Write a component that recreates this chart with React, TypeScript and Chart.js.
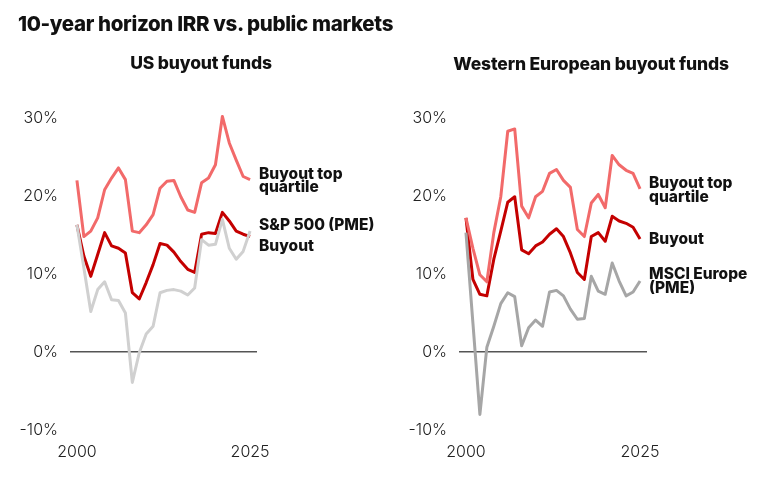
import React, { useEffect, useRef } from 'react';
import { Chart, registerables } from 'chart.js';

Chart.register(...registerables);

const years = [2000, 2001, 2002, 2003, 2004, 2005, 2006, 2007, 2008, 2009, 2010, 2011, 2012, 2013, 2014, 2015, 2016, 2017, 2018, 2019, 2020, 2021, 2022, 2023, 2024, 2025];
const xTickYears = [2000, 2025];
const yTicks = [-10, 0, 10, 20, 30];

const usTopQuartile = [22.0, 14.8, 15.5, 17.2, 20.8, 22.3, 23.6, 22.1, 15.5, 15.3, 16.3, 17.6, 21.0, 21.9, 22.0, 19.9, 18.2, 17.9, 21.7, 22.3, 24.0, 30.2, 26.8, 24.6, 22.5, 22.1];
const usBuyout = [16.3, 12.3, 9.7, 12.5, 15.3, 13.6, 13.3, 12.7, 7.6, 6.8, 8.9, 11.2, 13.9, 13.7, 12.8, 11.6, 10.6, 10.2, 15.1, 15.3, 15.2, 17.9, 16.8, 15.5, 15.1, 14.8];
const usSP500 = [16.3, 10.8, 5.2, 8.0, 9.0, 6.7, 6.6, 5.0, -3.9, -0.1, 2.3, 3.3, 7.6, 7.9, 8.0, 7.8, 7.3, 8.2, 14.4, 13.7, 13.8, 17.0, 13.3, 11.9, 12.9, 15.5];

const euTopQuartile = [17.2, 13.3, 9.9, 9.0, 15.3, 19.9, 28.3, 28.6, 18.7, 17.2, 19.9, 20.6, 22.9, 23.4, 22.0, 21.1, 15.7, 14.8, 19.1, 20.2, 18.5, 25.2, 24.0, 23.3, 22.9, 20.9];
const euBuyout = [17.2, 9.3, 7.4, 7.2, 11.9, 15.5, 19.2, 19.9, 13.1, 12.6, 13.6, 14.1, 15.1, 15.8, 14.8, 12.7, 10.2, 9.3, 14.8, 15.3, 14.2, 17.4, 16.8, 16.5, 16.0, 14.5];
const euMSCI = [15.3, 3.7, -8.0, 0.6, 3.3, 6.2, 7.6, 7.1, 0.8, 3.1, 4.1, 3.3, 7.7, 7.9, 7.2, 5.5, 4.2, 4.3, 9.7, 7.8, 7.4, 11.4, 9.1, 7.2, 7.7, 9.1];

const usLabels = [
  { lines: ['Buyout top', 'quartile'], value: 22.2 },
  { lines: ['S&P 500 (PME)'], value: 15.7 },
  { lines: ['Buyout'], value: 13.0 },
];
const euLabels = [
  { lines: ['Buyout top', 'quartile'], value: 21.0 },
  { lines: ['Buyout'], value: 13.9 },
  { lines: ['MSCI Europe', '(PME)'], value: 9.3 },
];

const FONT = "Inter, 'Noto Sans', sans-serif";
const LIGHT_RED = '#f26a6a';
const DARK_RED = '#c40000';

type LabelDef = { lines: string[]; value: number };

function Panel(props: {
  left: number;
  chartLeft: number;
  padRight: number;
  top: number[];
  buyout: number[];
  index: number[];
  indexColor: string;
  labels: LabelDef[];
}) {
  const ref = useRef<HTMLCanvasElement | null>(null);
  useEffect(() => {
    if (!ref.current) return;
    const labelPlugin = {
      id: 'endLabels',
      afterDatasetsDraw(chart: any) {
        const ctx = chart.ctx;
        const xs = chart.scales.x;
        const ys = chart.scales.y;
        const x = xs.getPixelForValue(years[years.length - 1]) + 9;
        ctx.save();
        ctx.font = `800 15.5px ${FONT}`;
        ctx.fillStyle = '#111';
        ctx.textAlign = 'left';
        ctx.textBaseline = 'alphabetic';
        props.labels.forEach((l) => {
          const y = ys.getPixelForValue(l.value);
          l.lines.forEach((line, i) => ctx.fillText(line, x, y + i * 13.5));
        });
        ctx.restore();
      },
    };
    const mk = (data: number[], color: string) => ({
      data: data.map((v, i) => ({ x: years[i], y: v })),
      borderColor: color,
      borderWidth: 3,
      pointRadius: 0,
      tension: 0,
      fill: false,
      clip: false as any,
      borderJoinStyle: 'round' as const,
    });
    const chart = new Chart(ref.current, {
      type: 'line',
      data: {
        datasets: [mk(props.index, props.indexColor), mk(props.top, LIGHT_RED), mk(props.buyout, DARK_RED)],
      },
      options: {
        animation: false,
        responsive: true,
        maintainAspectRatio: false,
        layout: { padding: { top: 118, left: 0, right: props.padRight, bottom: 0 } },
        plugins: { legend: { display: false }, tooltip: { enabled: false }, title: { display: false } },
        scales: {
          x: {
            type: 'linear',
            min: 1999,
            max: 2026,
            grid: { display: false, drawTicks: false },
            border: { display: false },
            afterBuildTicks: (s: any) => {
              s.ticks = xTickYears.map((v) => ({ value: v }));
            },
            afterFit: (s: any) => {
              s.height = 53;
            },
            ticks: {
              padding: 13,
              maxRotation: 0,
              autoSkip: false,
              font: { family: FONT, size: 16, weight: 300 as any },
              color: '#222',
              callback: (v: any) => String(v),
            },
          },
          y: {
            type: 'linear',
            min: -10,
            max: 30,
            afterBuildTicks: (s: any) => {
              s.ticks = yTicks.map((v) => ({ value: v }));
            },
            afterFit: (s: any) => {
              s.width = props.chartLeft;
            },
            grid: {
              drawTicks: false,
              color: (c: any) => (c.tick && c.tick.value === 0 ? '#555' : 'rgba(0,0,0,0)'),
              lineWidth: 1.5,
            },
            border: { display: false },
            ticks: {
              padding: 12,
              font: { family: FONT, size: 16, weight: 300 as any },
              color: '#222',
              callback: (v: any) => `${v}%`,
            },
          },
        },
      },
      plugins: [labelPlugin],
    });
    return () => chart.destroy();
  }, []);
  return (
    <div style={{ position: 'absolute', left: props.left, top: 0, width: 384, height: 483 }}>
      <canvas ref={ref} />
    </div>
  );
}

export default function App() {
  return (
    <div style={{ position: 'absolute', left: 0, top: 0, width: 768, height: 483, background: '#fff', fontFamily: FONT, color: '#111' }}>
      <Panel left={0} chartLeft={70} padRight={127} top={usTopQuartile} buyout={usBuyout} index={usSP500} indexColor="#d0d0d0" labels={usLabels} />
      <Panel left={384} chartLeft={75} padRight={121} top={euTopQuartile} buyout={euBuyout} index={euMSCI} indexColor="#a6a6a6" labels={euLabels} />
      <div style={{ position: 'absolute', left: 18, top: 12, fontSize: 20.5, fontWeight: 800, lineHeight: '24px', whiteSpace: 'nowrap', letterSpacing: -0.35 }}>
        10-year horizon IRR vs. public markets
      </div>
      <div style={{ position: 'absolute', left: 101, width: 200, top: 52, fontSize: 17.5, fontWeight: 800, lineHeight: '22px', textAlign: 'center', whiteSpace: 'nowrap', letterSpacing: -0.15 }}>
        US buyout funds
      </div>
      <div style={{ position: 'absolute', left: 441, width: 300, top: 53, fontSize: 17.5, fontWeight: 800, lineHeight: '22px', textAlign: 'center', whiteSpace: 'nowrap', letterSpacing: -0.15 }}>
        Western European buyout funds
      </div>
    </div>
  );
}
